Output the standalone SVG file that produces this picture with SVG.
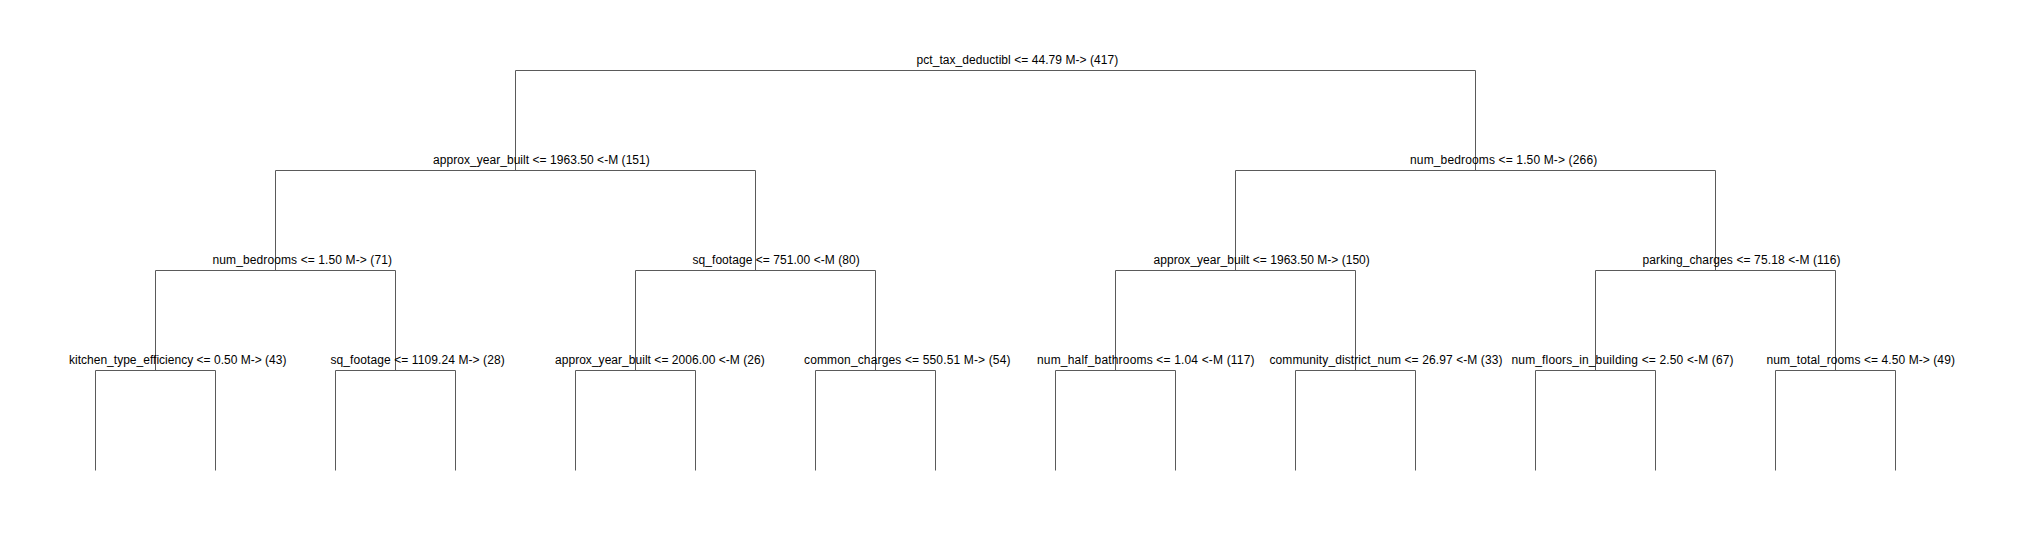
<svg xmlns="http://www.w3.org/2000/svg" width="2024" height="540" viewBox="0 0 2024 540">
  <style>
    .bg { fill: #ffffff; }
    .lbl { font-family: "Liberation Sans", Arial, sans-serif; font-size: 12px; fill: #000000; }
    .edge { fill: none; stroke: #5a5a5a; stroke-width: 1; }
  </style>
  <rect class="bg" x="0" y="0" width="2024" height="540"/>
  <g id="connectors">
    <path class="edge" d="M515.5 170.5 V70.5 H1475.5 V170.5"/>
    <path class="edge" d="M275.5 270.5 V170.5 H755.5 V270.5"/>
    <path class="edge" d="M1235.5 270.5 V170.5 H1715.5 V270.5"/>
    <path class="edge" d="M155.5 370.5 V270.5 H395.5 V370.5"/>
    <path class="edge" d="M635.5 370.5 V270.5 H875.5 V370.5"/>
    <path class="edge" d="M1115.5 370.5 V270.5 H1355.5 V370.5"/>
    <path class="edge" d="M1595.5 370.5 V270.5 H1835.5 V370.5"/>
    <path class="edge" d="M95.5 470.5 V370.5 H215.5 V470.5"/>
    <path class="edge" d="M335.5 470.5 V370.5 H455.5 V470.5"/>
    <path class="edge" d="M575.5 470.5 V370.5 H695.5 V470.5"/>
    <path class="edge" d="M815.5 470.5 V370.5 H935.5 V470.5"/>
    <path class="edge" d="M1055.5 470.5 V370.5 H1175.5 V470.5"/>
    <path class="edge" d="M1295.5 470.5 V370.5 H1415.5 V470.5"/>
    <path class="edge" d="M1535.5 470.5 V370.5 H1655.5 V470.5"/>
    <path class="edge" d="M1775.5 470.5 V370.5 H1895.5 V470.5"/>
  </g>
  <g id="node-root"><text class="lbl" x="916.5" y="64" textLength="201.7" lengthAdjust="spacing">pct_tax_deductibl &lt;= 44.79 M-&gt; (417)</text></g>
  <g id="node-l2a"><text class="lbl" x="433" y="164" textLength="216.8" lengthAdjust="spacing">approx_year_built &lt;= 1963.50 &lt;-M (151)</text></g>
  <g id="node-l2b"><text class="lbl" x="1410" y="164" textLength="187.2" lengthAdjust="spacing">num_bedrooms &lt;= 1.50 M-&gt; (266)</text></g>
  <g id="node-l3a"><text class="lbl" x="212.5" y="264" textLength="179.5" lengthAdjust="spacing">num_bedrooms &lt;= 1.50 M-&gt; (71)</text></g>
  <g id="node-l3b"><text class="lbl" x="692.5" y="264" textLength="167.2" lengthAdjust="spacing">sq_footage &lt;= 751.00 &lt;-M (80)</text></g>
  <g id="node-l3c"><text class="lbl" x="1153.5" y="264" textLength="216.3" lengthAdjust="spacing">approx_year_built &lt;= 1963.50 M-&gt; (150)</text></g>
  <g id="node-l3d"><text class="lbl" x="1642.5" y="264" textLength="198.1" lengthAdjust="spacing">parking_charges &lt;= 75.18 &lt;-M (116)</text></g>
  <g id="node-l4a"><text class="lbl" x="69" y="364" textLength="217.5" lengthAdjust="spacing">kitchen_type_efficiency &lt;= 0.50 M-&gt; (43)</text></g>
  <g id="node-l4b"><text class="lbl" x="330.5" y="364" textLength="174.2" lengthAdjust="spacing">sq_footage &lt;= 1109.24 M-&gt; (28)</text></g>
  <g id="node-l4c"><text class="lbl" x="555" y="364" textLength="209.7" lengthAdjust="spacing">approx_year_built &lt;= 2006.00 &lt;-M (26)</text></g>
  <g id="node-l4d"><text class="lbl" x="804" y="364" textLength="206.5" lengthAdjust="spacing">common_charges &lt;= 550.51 M-&gt; (54)</text></g>
  <g id="node-l4e"><text class="lbl" x="1037" y="364" textLength="217.5" lengthAdjust="spacing">num_half_bathrooms &lt;= 1.04 &lt;-M (117)</text></g>
  <g id="node-l4f"><text class="lbl" x="1269.5" y="364" textLength="233" lengthAdjust="spacing">community_district_num &lt;= 26.97 &lt;-M (33)</text></g>
  <g id="node-l4g"><text class="lbl" x="1511.5" y="364" textLength="222.1" lengthAdjust="spacing">num_floors_in_building &lt;= 2.50 &lt;-M (67)</text></g>
  <g id="node-l4h"><text class="lbl" x="1766.5" y="364" textLength="188.4" lengthAdjust="spacing">num_total_rooms &lt;= 4.50 M-&gt; (49)</text></g>
</svg>
